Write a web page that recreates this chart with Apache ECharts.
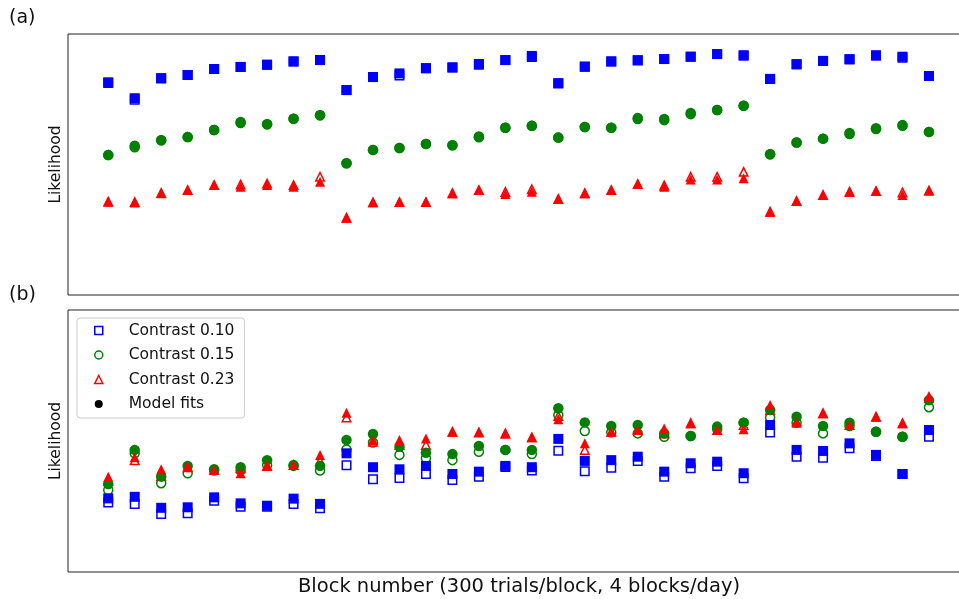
<!DOCTYPE html>
<html>
<head>
<meta charset="utf-8">
<script src="https://cdn.jsdelivr.net/npm/echarts@6/dist/echarts.min.js"></script>
<style>
  html, body { margin: 0; padding: 0; background: #fff; }
  #chart { width: 959px; height: 599px; }
</style>
</head>
<body>
<div id="chart"></div>
<script>
// Block index (300 trials per block, 4 blocks per day)
const blocks = [1, 2, 3, 4, 5, 6, 7, 8, 9, 10, 11, 12, 13, 14, 15, 16,
                17, 18, 19, 20, 21, 22, 23, 24, 25, 26, 27, 28, 29, 30, 31, 32];

const contrastNames = ['Contrast 0.10', 'Contrast 0.15', 'Contrast 0.23'];
const modelName = 'Model fits';

// Panel (a): observed likelihood and model fit per contrast (arbitrary units)
const aData010 = [81.2, 74.8, 83.0, 84.3, 86.6, 87.4, 88.2, 89.5, 90.0, 78.5, 83.5, 84.1, 86.9, 87.2, 88.2, 90.0,
                  91.2, 81.1, 87.5, 89.5, 89.9, 90.4, 91.3, 92.3, 91.8, 82.8, 88.4, 89.7, 90.3, 91.8, 90.9, 83.9];
const aModel010 = [81.5, 75.4, 83.0, 84.3, 86.6, 87.4, 88.2, 89.5, 90.0, 78.5, 83.5, 84.9, 86.9, 87.2, 88.5, 90.0,
                   91.6, 81.1, 87.5, 89.5, 89.9, 90.4, 91.3, 92.3, 91.8, 82.8, 88.4, 89.7, 90.3, 91.8, 91.3, 83.9];
const aData015 = [53.6, 56.6, 59.3, 60.5, 63.2, 65.9, 65.4, 67.5, 68.9, 50.5, 55.6, 56.3, 57.9, 57.4, 60.7, 64.1,
                  64.8, 60.3, 64.4, 64.1, 67.4, 67.0, 69.3, 70.9, 72.5, 53.9, 58.4, 59.9, 61.7, 63.6, 64.8, 62.5];
const aModel015 = [53.6, 57.2, 59.3, 60.5, 63.2, 66.3, 65.4, 67.5, 68.9, 50.5, 55.6, 56.3, 57.9, 57.4, 60.4, 64.1,
                   64.8, 60.3, 64.4, 64.1, 67.8, 67.4, 69.7, 70.9, 72.5, 53.9, 58.4, 59.9, 62.1, 63.9, 65.1, 62.5];
const aData023 = [35.8, 35.6, 39.1, 40.2, 42.1, 42.3, 42.7, 42.1, 45.3, 29.6, 35.5, 35.6, 35.6, 39.0, 40.2, 39.5,
                  40.5, 36.8, 39.0, 40.2, 42.5, 42.0, 45.3, 45.3, 47.2, 31.9, 36.0, 38.3, 39.6, 39.8, 39.3, 40.0];
const aModel023 = [35.7, 35.4, 39.0, 40.2, 42.1, 41.5, 42.1, 41.5, 43.4, 29.6, 35.5, 35.6, 35.6, 39.0, 40.2, 38.7,
                   39.6, 36.8, 39.0, 40.2, 42.5, 41.5, 44.3, 44.3, 44.7, 31.9, 36.0, 38.3, 39.6, 39.8, 38.3, 40.0];

// Panel (b): observed likelihood and model fit per contrast (arbitrary units)
const bData010 = [26.5, 26.0, 22.1, 22.4, 27.2, 24.9, 24.9, 26.0, 24.3, 40.7, 35.4, 35.9, 37.4, 35.1, 36.4, 40.1,
                  38.7, 46.3, 38.5, 39.8, 42.4, 36.4, 39.6, 40.5, 35.8, 53.2, 44.0, 43.6, 47.2, 44.3, 37.4, 51.6];
const bModel010 = [28.1, 28.7, 24.5, 24.7, 28.5, 26.2, 25.3, 28.0, 26.0, 45.3, 40.0, 39.2, 40.5, 37.4, 38.3, 40.5,
                   40.0, 50.8, 42.4, 42.7, 44.0, 38.3, 41.5, 42.1, 37.7, 56.1, 46.6, 46.2, 49.1, 44.7, 37.4, 54.2];
const bData015 = [31.3, 45.3, 33.9, 37.7, 38.7, 38.7, 40.8, 40.5, 38.7, 46.8, 49.4, 44.7, 43.4, 42.7, 45.9, 46.6,
                  45.0, 59.9, 53.8, 53.3, 52.9, 51.6, 51.9, 54.5, 57.0, 59.0, 57.0, 52.9, 55.7, 53.5, 51.6, 62.9];
const bModel015 = [33.6, 46.6, 36.4, 40.5, 39.2, 40.0, 42.7, 40.8, 40.5, 50.4, 52.7, 47.8, 45.5, 45.0, 48.1, 46.6,
                   46.6, 62.5, 57.1, 55.7, 56.1, 52.9, 51.9, 55.5, 57.0, 61.8, 59.3, 55.7, 57.0, 53.5, 51.6, 65.6];
const bData023 = [34.7, 42.7, 36.6, 40.0, 38.9, 39.6, 40.5, 40.8, 42.4, 59.0, 49.7, 48.5, 48.5, 53.5, 53.2, 52.9,
                  51.4, 59.5, 46.6, 53.5, 54.2, 52.9, 56.8, 54.2, 56.1, 61.8, 57.4, 60.6, 56.1, 59.3, 56.8, 66.3];
const bModel023 = [36.4, 43.8, 39.2, 40.5, 38.9, 37.7, 40.8, 40.8, 44.7, 60.8, 50.4, 50.4, 51.0, 53.5, 53.5, 52.9,
                   51.4, 58.3, 49.1, 53.5, 54.2, 54.8, 56.8, 54.2, 54.5, 63.7, 57.0, 60.6, 56.1, 59.3, 56.8, 67.2];

const colors = ['#0000ff', '#008000', '#ff0000'];
const symbols = ['rect', 'circle', 'triangle'];
const sizes = [10, 10.5, 10];
const FONT = 'DejaVu Sans';

function pairs(values) {
  return blocks.map((b, i) => [b, values[i]]);
}

function observed(k, panel, values) {
  return {
    type: 'scatter', name: contrastNames[k],
    xAxisIndex: panel, yAxisIndex: panel,
    symbol: symbols[k], symbolSize: sizes[k] - 1.5,
    itemStyle: { color: 'rgba(255,255,255,0)', borderColor: colors[k], borderWidth: 1.5, opacity: 1 },
    emphasis: { disabled: true },
    silent: true, z: 2,
    data: pairs(values)
  };
}

function fitted(k, panel, values) {
  return {
    type: 'scatter', name: modelName,
    xAxisIndex: panel, yAxisIndex: panel,
    symbol: symbols[k], symbolSize: sizes[k],
    itemStyle: { color: colors[k], opacity: 1 },
    emphasis: { disabled: true },
    silent: true, z: 3,
    data: pairs(values)
  };
}

const panelData = [
  [aData010, aData015, aData023],
  [bData010, bData015, bData023]
];
const panelModel = [
  [aModel010, aModel015, aModel023],
  [bModel010, bModel015, bModel023]
];

const series = [];
for (let p = 0; p < 2; p++) {
  for (let k = 0; k < 3; k++) {
    series.push(observed(k, p, panelData[p][k]));
    series.push(fitted(k, p, panelModel[p][k]));
  }
}

// The plot boxes run past the right edge of the canvas
const gridBox = { show: true, borderColor: '#222', borderWidth: 1, backgroundColor: '#fff',
                  outerBoundsMode: 'none', containLabel: false };

function xAxisFor(idx, withName) {
  return {
    type: 'value', gridIndex: idx, min: -0.52, max: 33.55,
    axisLine: { show: false }, axisTick: { show: false },
    axisLabel: { show: false }, splitLine: { show: false },
    name: withName ? 'Block number (300 trials/block, 4 blocks/day)' : '',
    nameLocation: 'middle', nameGap: 5,
    nameTextStyle: { fontFamily: FONT, fontSize: 19.5, color: '#111', verticalAlign: 'top' }
  };
}

function yAxisFor(idx) {
  return {
    type: 'value', gridIndex: idx, min: 0, max: 100,
    axisLine: { show: false }, axisTick: { show: false },
    axisLabel: { show: false }, splitLine: { show: false },
    name: 'Likelihood', nameLocation: 'middle', nameGap: 4,
    nameTextStyle: { fontFamily: FONT, fontSize: 15.5, color: '#111' }
  };
}

const option = {
  backgroundColor: '#fff',
  animation: false,
  title: [
    { text: '(a)', left: 9, top: 9, padding: 0,
      textStyle: { fontFamily: FONT, fontSize: 19, fontWeight: 'normal', color: '#111' } },
    { text: '(b)', left: 9, top: 286, padding: 0,
      textStyle: { fontFamily: FONT, fontSize: 19, fontWeight: 'normal', color: '#111' } }
  ],
  grid: [
    Object.assign({ left: 68, top: 34, width: 902, height: 261 }, gridBox),
    Object.assign({ left: 68, top: 310, width: 902, height: 262 }, gridBox)
  ],
  xAxis: [xAxisFor(0, false), xAxisFor(1, true)],
  yAxis: [yAxisFor(0), yAxisFor(1)],
  legend: {
    orient: 'vertical', left: 77, top: 318,
    padding: [4.5, 10, 6, 17],
    itemWidth: 8, itemHeight: 8, itemGap: 8.5,
    backgroundColor: 'rgba(255,255,255,0.8)',
    borderColor: '#cccccc', borderWidth: 1, borderRadius: 3,
    selectedMode: false,
    textStyle: {
      fontFamily: FONT, fontSize: 15.5, color: '#111', lineHeight: 16,
      rich: { gap: { width: 21 } }
    },
    formatter: name => '{gap| }' + name,
    data: [
      { name: contrastNames[0], icon: 'rect',
        itemStyle: { color: 'rgba(255,255,255,0)', borderColor: colors[0], borderWidth: 1.5 } },
      { name: contrastNames[1], icon: 'circle',
        itemStyle: { color: 'rgba(255,255,255,0)', borderColor: colors[1], borderWidth: 1.5 } },
      { name: contrastNames[2], icon: 'triangle',
        itemStyle: { color: 'rgba(255,255,255,0)', borderColor: colors[2], borderWidth: 1.5 } },
      { name: modelName, icon: 'circle',
        itemStyle: { color: '#000', borderColor: '#000', borderWidth: 0 } }
    ]
  },
  series: series
};

const chart = echarts.init(document.getElementById('chart'), null, { renderer: 'canvas' });
chart.setOption(option);
</script>
</body>
</html>
